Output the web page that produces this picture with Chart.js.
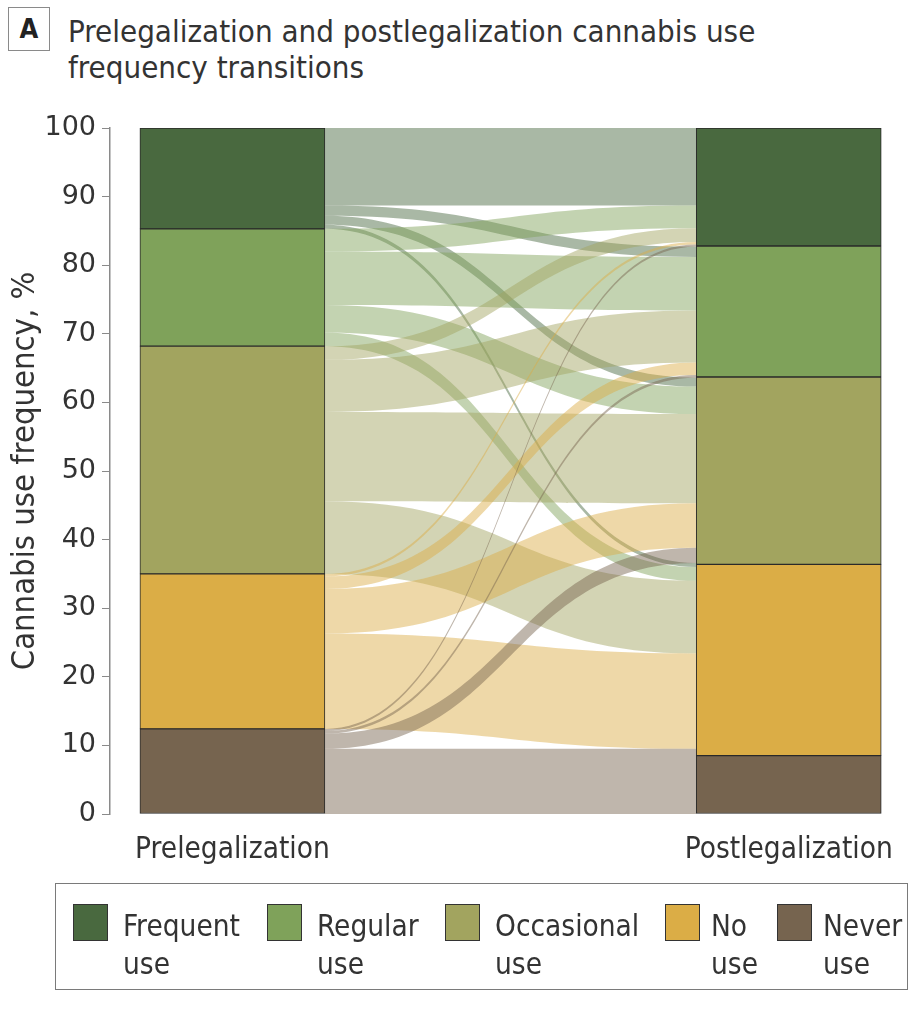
<!DOCTYPE html>
<html lang="en">
<head>
<meta charset="UTF-8">
<title>Prelegalization and postlegalization cannabis use frequency transitions</title>
<script src="https://cdn.jsdelivr.net/npm/chart.js@4"></script>
<style>
  body {
    margin: 0;
    width: 924px;
    height: 1024px;
    position: relative;
    overflow: hidden;
    background: #fff;
    color: #333;
    font-family: "DejaVu Sans Condensed", "DejaVu Sans", sans-serif;
  }
  #chart { position: absolute; left: 0; top: 0; }
  .panel {
    position: absolute; left: 8px; top: 7px; width: 42px; height: 44px;
    border: 1.5px solid #8a8a8a; box-sizing: border-box;
    font: bold 27px "DejaVu Sans Condensed", sans-serif;
    text-align: center; line-height: 41px; color: #222;
  }
  .title { position: absolute; left: 68px; font-size: 31px; line-height: 36px; white-space: nowrap; }
  .legend {
    position: absolute; left: 55px; top: 883px; width: 853px; height: 107px;
    border: 1.5px solid #7a7a7a; box-sizing: border-box;
  }
  .item { position: absolute; top: 0; }
  .swatch { position: absolute; top: 20px; width: 35px; height: 37px; border: 1px solid #333; box-sizing: border-box; }
  .label { position: absolute; top: 23px; font-size: 29.5px; line-height: 38px; white-space: nowrap; }
</style>
</head>
<body>
<div class="panel">A</div>
<div class="title" style="top:13px">Prelegalization and postlegalization cannabis use</div>
<div class="title" style="top:49px">frequency transitions</div>
<canvas id="chart" width="924" height="1024"></canvas>
<div class="legend" id="legend"></div>

<script>
// categories, top of the stack first
const categories = ['Frequent use', 'Regular use', 'Occasional use', 'No use', 'Never use'];
const periods = ['Prelegalization', 'Postlegalization'];
const yTicks = [0, 10, 20, 30, 40, 50, 60, 70, 80, 90, 100];

// share of respondents in each category, %
const preShares = [14.7, 17.1, 33.2, 22.6, 12.4];
const postShares = [17.2, 19.1, 27.3, 27.9, 8.5];

// transitions[from][to], % of respondents
const transitions = [
  [11.3, 1.5, 1.3, 0.6, 0.0],
  [3.3, 7.8, 4.0, 2.0, 0.0],
  [2.0, 7.6, 13.0, 10.6, 0.0],
  [0.4, 1.8, 6.5, 13.9, 0.0],
  [0.3, 0.4, 2.2, 1.2, 8.3]
];

const colors = ['#49693f', '#7fa25a', '#a2a45f', '#dbad46', '#76644f'];

function withAlpha(hex, a) {
  const n = parseInt(hex.slice(1), 16);
  return `rgba(${n >> 16},${(n >> 8) & 255},${n & 255},${a})`;
}

// flows between the two bars, drawn with the y scale
const flowPlugin = {
  id: 'flows',
  beforeDatasetsDraw(chart) {
    const ctx = chart.ctx;
    const y = chart.scales.y;
    const bars = chart.getDatasetMeta(0).data;
    const x0 = bars[0].x + bars[0].width / 2;
    const x1 = bars[1].x - bars[1].width / 2;
    const xm = (x0 + x1) / 2;

    const leftTop = [], rightTop = [];
    let cum = 100;
    for (let i = 0; i < categories.length; i++) {
      leftTop[i] = [];
      for (let j = 0; j < categories.length; j++) {
        leftTop[i][j] = cum;
        cum -= transitions[i][j];
      }
    }
    cum = 100;
    for (let j = 0; j < categories.length; j++) {
      for (let i = 0; i < categories.length; i++) {
        if (!rightTop[i]) rightTop[i] = [];
        rightTop[i][j] = cum;
        cum -= transitions[i][j];
      }
    }

    ctx.save();
    for (let i = 0; i < categories.length; i++) {
      for (let j = 0; j < categories.length; j++) {
        const v = transitions[i][j];
        if (!v) continue;
        const a0 = y.getPixelForValue(leftTop[i][j]);
        const b0 = y.getPixelForValue(leftTop[i][j] - v);
        const a1 = y.getPixelForValue(rightTop[i][j]);
        const b1 = y.getPixelForValue(rightTop[i][j] - v);
        ctx.beginPath();
        ctx.moveTo(x0, a0);
        ctx.bezierCurveTo(xm, a0, xm, a1, x1, a1);
        ctx.lineTo(x1, b1);
        ctx.bezierCurveTo(xm, b1, xm, b0, x0, b0);
        ctx.closePath();
        ctx.fillStyle = withAlpha(colors[i], 0.47);
        ctx.fill();
      }
    }
    ctx.restore();
  }
};

// stacked bars: bottom category first
const datasets = categories.map((c, i) => ({
  label: c,
  data: [{ x: 0, y: preShares[i] }, { x: 1, y: postShares[i] }],
  backgroundColor: colors[i],
  borderColor: '#2a2a2a',
  borderWidth: 1,
  borderSkipped: false,
  barThickness: 185
})).reverse();

new Chart(document.getElementById('chart'), {
  type: 'bar',
  data: { datasets },
  plugins: [flowPlugin],
  options: {
    responsive: false,
    animation: false,
    layout: { padding: { top: 128, right: 24, bottom: 0, left: 0 } },
    plugins: { legend: { display: false }, tooltip: { enabled: false } },
    scales: {
      x: {
        type: 'linear',
        stacked: true,
        offset: false,
        min: -0.22,
        max: 1.2,
        afterBuildTicks: s => { s.ticks = [{ value: 0 }, { value: 1 }]; },
        afterFit: s => { s.height = 210; },
        grid: { display: false, offset: false },
        border: { display: false },
        ticks: {
          padding: 11,
          color: '#333',
          font: { family: '"DejaVu Sans Condensed", sans-serif', size: 29.5 },
          callback: (v, idx) => periods[idx]
        }
      },
      y: {
        stacked: true,
        min: 0,
        max: 100,
        afterBuildTicks: s => { s.ticks = yTicks.map(v => ({ value: v })); },
        afterFit: s => { s.width = 110; },
        grid: { drawOnChartArea: false, drawTicks: true, tickLength: 8, color: '#8a8a8a' },
        border: { display: true, color: '#8a8a8a', width: 1.5 },
        ticks: {
          padding: 6,
          color: '#333',
          font: { family: '"DejaVu Sans", sans-serif', size: 27 }
        },
        title: {
          display: true,
          text: 'Cannabis use frequency, %',
          color: '#333',
          padding: { top: 6, bottom: 0 },
          font: { family: '"DejaVu Sans Condensed", sans-serif', size: 32.5 }
        }
      }
    }
  }
});

// legend, two lines per label
const legendX = [17, 211, 389, 609, 721];
const legend = document.getElementById('legend');
categories.forEach((c, i) => {
  const parts = c.split(' ');
  const item = document.createElement('div');
  item.className = 'item';
  item.style.left = legendX[i] + 'px';
  item.innerHTML = `<div class="swatch" style="background:${colors[i]}"></div>` +
    `<div class="label" style="left:${i < 3 ? 50 : 46}px">${parts[0]}<br>${parts[1]}</div>`;
  legend.appendChild(item);
});
</script>
</body>
</html>
